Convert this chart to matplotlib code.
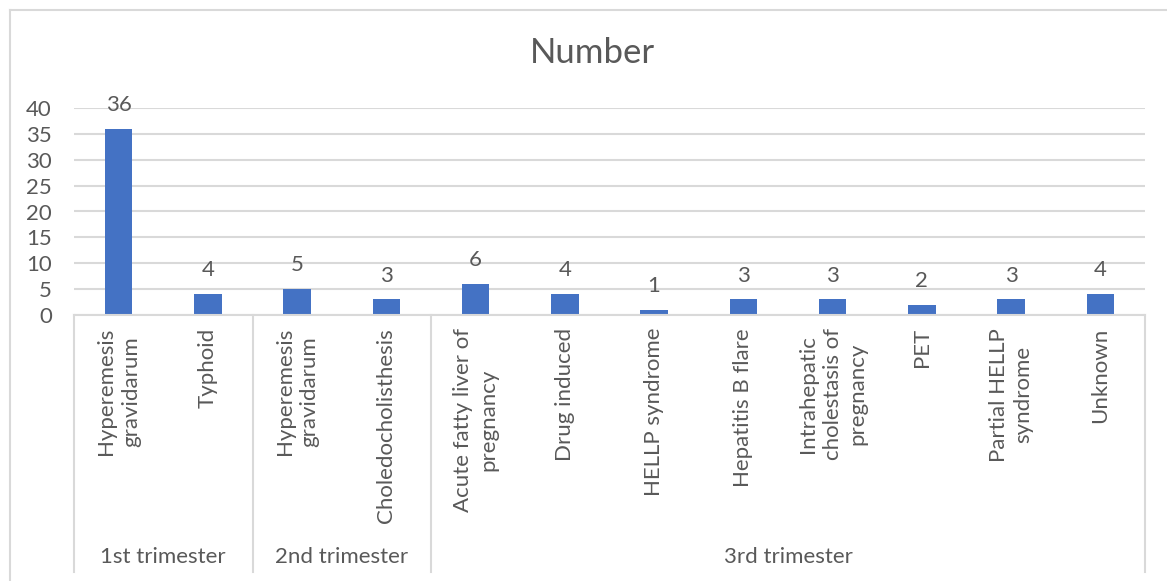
import matplotlib
matplotlib.use("Agg")
import matplotlib.pyplot as plt
from matplotlib.transforms import blended_transform_factory
from matplotlib.lines import Line2D

categories = [
    "Hyperemesis\ngravidarum", "Typhoid",
    "Hyperemesis\ngravidarum", "Choledocholisthesis",
    "Acute fatty liver of\npregnancy", "Drug induced", "HELLP syndrome",
    "Hepatitis B flare", "Intrahepatic\ncholestasis of\npregnancy", "PET",
    "Partial HELLP\nsyndrome", "Unknown",
]
values = [36, 4, 5, 3, 6, 4, 1, 3, 3, 2, 3, 4]
groups = ["1st trimester", "2nd trimester", "3rd trimester"]
group_sizes = [2, 2, 8]
title = "Number"
yticks = [0, 5, 10, 15, 20, 25, 30, 35, 40]

W, H = 1167, 581
TXT = "#595959"
GRID = "#D9D9D9"
BAR = "#4472C4"
FONT = "Lato"
FS = 16

fig = plt.figure(figsize=(W / 100, H / 100), dpi=100)
fig.patch.set_facecolor("white")

# outer chart border (only top/left visible)
fig.add_artist(Line2D([10 / W, 1.0], [1 - 10 / H, 1 - 10 / H], transform=fig.transFigure, color=GRID, lw=1.5))
fig.add_artist(Line2D([10 / W, 10 / W], [0, 1 - 10 / H], transform=fig.transFigure, color=GRID, lw=1.5))

left, right, top, bottom = 74, 1145, 108, 315
ax = fig.add_axes([left / W, 1 - bottom / H, (right - left) / W, (bottom - top) / H])

x = list(range(len(values)))
ax.bar(x, values, width=0.31, color=BAR, zorder=3)
ax.set_xlim(-0.5, len(values) - 0.5)
ax.set_ylim(0, 40)
ax.set_yticks(yticks)
ax.set_yticklabels([str(v) for v in yticks], fontsize=FS, color=TXT, family=FONT)
ax.tick_params(axis="y", length=0, pad=16)
ax.tick_params(axis="x", length=0, labelbottom=False)
for s in ["top", "right", "left"]:
    ax.spines[s].set_visible(False)
ax.spines["bottom"].set_color(GRID)
ax.spines["bottom"].set_linewidth(1.5)
ax.spines["bottom"].set_zorder(4)
ax.yaxis.grid(True, color=GRID, lw=1.5, zorder=0)
ax.set_axisbelow(True)

for xi, v in zip(x, values):
    ax.annotate(str(v), (xi, v), xytext=(0, 10), textcoords="offset points",
                ha="center", va="bottom", fontsize=FS, color=TXT, family=FONT)

trans = blended_transform_factory(ax.transData, ax.transAxes)
ax_h = bottom - top
y_lab = -(328 - bottom) / ax_h
for xi, lab in zip(x, categories):
    ax.text(xi, y_lab, lab, transform=trans, rotation=90, ha="center", va="top",
            multialignment="center", fontsize=FS, color=TXT, family=FONT,
            linespacing=1.3)

# separators
y_end = -(572 - bottom) / ax_h
bounds = [-0.5]
for g in group_sizes:
    bounds.append(bounds[-1] + g)
for b in bounds:
    ax.add_line(Line2D([b, b], [0, y_end], transform=trans, color=GRID, lw=1.5, clip_on=False))

y_grp = -(557 - bottom) / ax_h
for i, gname in enumerate(groups):
    c = (bounds[i] + bounds[i + 1]) / 2
    ax.text(c, y_grp, gname, transform=trans, ha="center", va="center",
            fontsize=FS, color=TXT, family=FONT)

fig.text(592 / W, 1 - 53 / H, title, ha="center", va="center", fontsize=25, color=TXT, family=FONT)

fig.savefig("out.png", dpi=100, facecolor="white")
